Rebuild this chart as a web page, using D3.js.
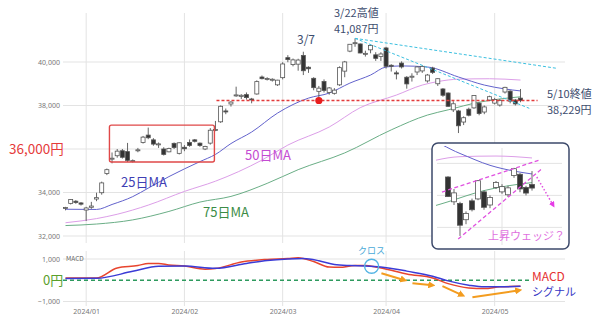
<!DOCTYPE html>
<html>
<head>
<meta charset="utf-8">
<script src="https://cdn.jsdelivr.net/npm/d3@7"></script>
<style>
body { margin: 0; background: #fff; }
svg { display: block; font-family: "Noto Sans CJK JP", "Noto Sans", sans-serif; }
</style>
</head>
<body>
<svg id="chart"></svg>
<script>
var svg_width = 600
var svg_height = 317

// trading days, 2023/12/26 .. 2024/05/10
var dates = ["12/26","12/27","12/28","12/29","01/04","01/05","01/09","01/10","01/11","01/12",
             "01/15","01/16","01/17","01/18","01/19","01/22","01/23","01/24","01/25","01/26",
             "01/29","01/30","01/31","02/01","02/02","02/05","02/06","02/07","02/08","02/09",
             "02/13","02/14","02/15","02/16","02/19","02/20","02/21","02/22","02/26","02/27",
             "02/28","02/29","03/01","03/04","03/05","03/06","03/07","03/08","03/11","03/12",
             "03/13","03/14","03/15","03/18","03/19","03/21","03/22","03/25","03/26","03/27",
             "03/28","03/29","04/01","04/02","04/03","04/04","04/05","04/08","04/09","04/10",
             "04/11","04/12","04/15","04/16","04/17","04/18","04/19","04/22","04/23","04/24",
             "04/25","04/26","04/30","05/01","05/02","05/07","05/08","05/09","05/10"];

var opens = [33290,33500,33600,33520,33193,33320,33700,33990,34870,35550,
             35690,35920,35880,35420,35930,36300,36640,36420,36200,36000,
             35870,36260,35800,36080,36300,36420,36270,36000,36270,36860,
             37250,37750,38070,38460,38420,38500,38300,38530,39310,39220,
             39200,38950,39280,40200,39880,39900,40300,39760,39250,38650,
             39100,38600,38560,38950,39580,40500,40850,40830,40380,40560,
             40330,40250,40646,39850,39500,39950,39300,39300,39540,39590,
             39130,39720,39000,38760,38575,37800,37750,37240,37830,37890,
             38110,37700,38250,38110,38020,38620,38660,38250,38340];

var highs = [33340,33700,33650,33560,33340,33570,33990,34500,35100,35840,
             36000,36000,36280,35520,36050,36600,36984,36500,36300,36080,
             36060,36300,36300,36180,36440,36460,36300,36150,36960,37290,
             38000,37860,38200,38865,38520,38600,38350,39156,39380,39300,
             39250,39180,39990,40314,40160,40150,40472,39800,39300,38900,
             39200,38850,38800,39800,40050,40820,41087,40850,40520,40780,
             40450,40450,40697,39900,39600,40030,39350,39480,39800,39850,
             39450,39780,39250,38800,38600,38200,37800,37500,37900,38480,
             38150,38000,38450,38350,38300,38860,38700,38300,38760];

var lows = [33180,33450,33480,33400,32693,33250,33600,33900,34800,35340,
            35600,35560,35400,35380,35850,36250,36450,36150,36050,35700,
            35850,36000,35750,35900,36100,36300,36100,35950,36200,36820,
            37200,37600,37950,38400,38300,38270,38100,38500,39200,39150,
            39100,38900,39200,39990,39800,39600,39400,39500,38700,38271,
            38600,38500,38500,38900,39300,40450,40700,40400,40250,40400,
            40050,40050,39700,39560,39200,39700,38774,39100,39400,39500,
            39050,39450,38900,38400,37950,37700,36733,37100,37500,37850,
            37550,37600,38200,38050,37950,38550,38100,38000,38150];

var closes = [33306,33681,33540,33464,33288,33377,33763,34441,35049,35577,
              35901,35619,35477,35466,35963,36546,36517,36226,36236,35751,
              36026,36065,36286,36011,36158,36354,36160,36119,36863,36897,
              37963,37703,38157,38487,38470,38363,38262,39098,39233,39239,
              39208,39166,39910,40109,40097,40090,39598,39688,38820,38797,
              38695,38807,38707,39740,40003,40815,40888,40414,40398,40762,
              40168,40369,39803,39838,39451,39773,38992,39347,39773,39800,
              39400,39523,39232,38471,37962,38079,37068,37438,37552,38460,
              37628,37934,38405,38274,38236,38835,38202,38073,38229];

// moving averages: [day index, value]
var ma25 = [[0,33230],[6,33220],[9,33450],[13,33810],[16,34200],[20,34730],[26,35420],[29,35750],
            [32,36250],[36,36780],[41,37650],[47,38340],[51,38570],[55,39030],[59,39400],[62,39770],
            [65,39820],[70,39770],[76,39310],[81,38940],[85,38760],[88,38670]];
var ma50 = [[0,32610],[6,32800],[10,33000],[16,33420],[23,34050],[29,34520],[38,35490],[43,36180],
            [51,37010],[57,37900],[64,38480],[69,38940],[72,39100],[76,39210],[82,39230],[88,39170]];
var ma75 = [[0,32480],[6,32550],[13,32740],[20,33130],[26,33560],[32,33820],[39,34420],[45,35050],
            [54,35820],[63,36880],[70,37560],[74,37800],[80,38150],[84,38300],[88,38400]];

// MACD panel
var macd = [[0,110],[6,110],[10,580],[14,690],[16,790],[18,790],[20,720],[23,670],[27,520],[29,550],
            [34,860],[39,980],[43,1020],[45,1060],[48,880],[51,620],[53,610],[56,690],[58,690],[60,620],
            [63,470],[66,290],[71,110],[74,-160],[78,-360],[81,-390],[84,-310],[88,-280]];
var signal = [[0,80],[6,90],[13,420],[18,660],[23,670],[29,560],[35,790],[39,930],[43,1000],[46,1020],
              [49,920],[52,740],[55,690],[58,670],[61,620],[64,520],[66,430],[71,190],[74,-30],[78,-230],
              [81,-310],[84,-310],[88,-280]];

var yTicks = [32000, 34000, 36000, 38000, 40000];
var yLabelTicks = [32000, 34000, 38000, 40000];
var macdTicks = [-1000, 1000];
var tickLabels = ["2024/01", "2024/02", "2024/03", "2024/04", "2024/05"];

// annotations in data coordinates
var lastClose = 38229;
var touchDay = 49;
var highDay = 56, highValue = 41087;
var trendEnds = [[95, 39710], [89.7, 37870]];
var boxRange = {i0: 8.5, i1: 28.8, v0: 35400, v1: 37100};
var crossPoint = [59.2, 660];
var macdArrows = [[[61.1, 330], [65.6, 0]], [[67.1, -140], [71, -235]],
                  [[72.9, -280], [76.8, -710]], [[78.7, -800], [87.8, -470]]];
var wedgeLines = [[[73, 38106], [89.3, 39106]], [[75.7, 36637], [89.8, 38856]]];
var wedgeArrow = [[88.8, 38575], [91.5, 37700]];
var insetFrom = 74;


var svg = d3.select("#chart")
.attr("width", svg_width)
.attr("height", svg_height);

var x = d3.scaleLinear().domain([0, 88]).range([65.5, 520.5]);
var y = d3.scaleLinear().domain([32000, 40000]).range([236, 62]);
var ym = d3.scaleLinear().domain([-1000, 1000]).range([301.5, 259]);

var plotLeft = 63, plotRight = 565;

var tickIdx = [];
dates.forEach(function(d, i) {
  if (i > 0 && d.slice(0, 2) !== dates[i - 1].slice(0, 2)) tickIdx.push(i);
});

var defs = svg.append("defs");
defs.append("marker")
.attr("id", "orangeHead")
.attr("viewBox", "0 0 10 10")
.attr("refX", 6).attr("refY", 5)
.attr("markerWidth", 3.6).attr("markerHeight", 3.6)
.attr("orient", "auto")
.append("path").attr("d", "M0,0L10,5L0,10z").attr("fill", "#f39c1f");
defs.append("marker")
.attr("id", "pinkHead")
.attr("viewBox", "0 0 10 10")
.attr("refX", 5).attr("refY", 5)
.attr("markerWidth", 6).attr("markerHeight", 6)
.attr("markerUnits", "userSpaceOnUse")
.attr("orient", "auto")
.append("path").attr("d", "M0,0L10,5L0,10z").attr("fill", "#e63ce6");
defs.append("clipPath").attr("id", "insetClip")
.append("rect").attr("x", 436).attr("y", 146).attr("width", 128).attr("height", 100);

// grid
var grid = svg.append("g").attr("stroke", "#e3e3e3").attr("stroke-width", 1);
grid.selectAll(".hy").data(yTicks).enter().append("line")
.attr("x1", plotLeft).attr("x2", plotRight)
.attr("y1", function(d) { return y(d); }).attr("y2", function(d) { return y(d); });
grid.selectAll(".hm").data(macdTicks).enter().append("line")
.attr("x1", plotLeft).attr("x2", plotRight)
.attr("y1", function(d) { return ym(d); }).attr("y2", function(d) { return ym(d); });
grid.selectAll(".vx").data(tickIdx).enter().append("line")
.attr("x1", function(d) { return x(d); }).attr("x2", function(d) { return x(d); })
.attr("y1", 13).attr("y2", 243);
grid.selectAll(".vm").data(tickIdx).enter().append("line")
.attr("x1", function(d) { return x(d); }).attr("x2", function(d) { return x(d); })
.attr("y1", 251).attr("y2", 306);

// axes
var yAxis = svg.append("g")
.attr("transform", "translate(" + plotLeft + ",0)")
.call(d3.axisLeft(y).tickValues(yLabelTicks).tickFormat(d3.format(",")).tickSize(0).tickPadding(3));
var mAxis = svg.append("g")
.attr("transform", "translate(" + plotLeft + ",0)")
.call(d3.axisLeft(ym).tickValues(macdTicks).tickFormat(d3.format(",")).tickSize(0).tickPadding(3));
var xAxis = svg.append("g")
.attr("transform", "translate(0,306)")
.call(d3.axisBottom(x).tickValues(tickIdx).tickFormat(function(d, i) { return tickLabels[i]; }).tickSize(0).tickPadding(3));
[yAxis, mAxis, xAxis].forEach(function(a) {
  a.select(".domain").remove();
  a.selectAll("text").attr("font-size", "7px").attr("fill", "#777").attr("font-family", "'Noto Sans', sans-serif");
});

// moving averages
var line = d3.line()
.x(function(d) { return x(d[0]); })
.y(function(d) { return y(d[1]); })
.curve(d3.curveMonotoneX);

svg.append("path").datum(ma75).attr("d", line).attr("fill", "none").attr("stroke", "#6aae86").attr("stroke-width", 1);
svg.append("path").datum(ma50).attr("d", line).attr("fill", "none").attr("stroke", "#dc9ee8").attr("stroke-width", 1);
svg.append("path").datum(ma25).attr("d", line).attr("fill", "none").attr("stroke", "#6262cc").attr("stroke-width", 1);

// candles
var days = d3.range(dates.length);
function drawCandles(g, xs, ys, idx, w) {
  g.selectAll(".wick").data(idx).enter().append("line")
  .attr("x1", function(i) { return xs(i); }).attr("x2", function(i) { return xs(i); })
  .attr("y1", function(i) { return ys(highs[i]); }).attr("y2", function(i) { return ys(lows[i]); })
  .attr("stroke", "#555").attr("stroke-width", 0.9);
  g.selectAll(".body").data(idx).enter().append("rect")
  .attr("x", function(i) { return xs(i) - w / 2; })
  .attr("width", w)
  .attr("y", function(i) { return ys(Math.max(opens[i], closes[i])); })
  .attr("height", function(i) { return Math.max(1, Math.abs(ys(opens[i]) - ys(closes[i]))); })
  .attr("fill", function(i) { return closes[i] >= opens[i] ? "#fff" : "#333"; })
  .attr("stroke", "#555").attr("stroke-width", 0.8);
}
drawCandles(svg.append("g"), x, y, days, 4);

// 5/10 close line and touch point
svg.append("line")
.attr("x1", x(29.2)).attr("x2", x(91.3))
.attr("y1", y(lastClose)).attr("y2", y(lastClose))
.attr("stroke", "#e33b3b").attr("stroke-width", 1.3).attr("stroke-dasharray", "3,2");
svg.append("circle")
.attr("cx", x(touchDay)).attr("cy", y(lastClose)).attr("r", 3.6)
.attr("fill", "#e81e1e");

// trend lines from the 3/22 high
svg.selectAll(".trend").data(trendEnds).enter().append("line")
.attr("x1", x(highDay)).attr("y1", y(highValue))
.attr("x2", function(d) { return x(d[0]); }).attr("y2", function(d) { return y(d[1]); })
.attr("stroke", "#3cc0e0").attr("stroke-width", 1).attr("stroke-dasharray", "3,2");

// range box
svg.append("rect")
.attr("x", x(boxRange.i0)).attr("y", y(boxRange.v1))
.attr("width", x(boxRange.i1) - x(boxRange.i0)).attr("height", y(boxRange.v0) - y(boxRange.v1))
.attr("rx", 2)
.attr("fill", "none").attr("stroke", "#e04848").attr("stroke-width", 1.4);

// MACD panel
var mline = d3.line()
.x(function(d) { return x(d[0]); })
.y(function(d) { return ym(d[1]); })
.curve(d3.curveMonotoneX);

svg.append("line")
.attr("x1", plotLeft).attr("x2", 530)
.attr("y1", ym(0)).attr("y2", ym(0))
.attr("stroke", "#2e9a5e").attr("stroke-width", 1.5).attr("stroke-dasharray", "4,3");
svg.append("path").datum(macd).attr("d", mline).attr("fill", "none").attr("stroke", "#e8452e").attr("stroke-width", 1.5);
svg.append("path").datum(signal).attr("d", mline).attr("fill", "none").attr("stroke", "#3b3bd6").attr("stroke-width", 1.5);

svg.selectAll(".oarrow").data(macdArrows).enter().append("line")
.attr("x1", function(d) { return x(d[0][0]); }).attr("y1", function(d) { return ym(d[0][1]); })
.attr("x2", function(d) { return x(d[1][0]); }).attr("y2", function(d) { return ym(d[1][1]); })
.attr("stroke", "#f39c1f").attr("stroke-width", 2)
.attr("marker-end", "url(#orangeHead)");

svg.append("circle")
.attr("cx", x(crossPoint[0])).attr("cy", ym(crossPoint[1])).attr("r", 7)
.attr("fill", "none").attr("stroke", "#54b4e4").attr("stroke-width", 1.4);

// texts
function label(t, px, py, size, color, anchor) {
  svg.append("text").attr("x", px).attr("y", py)
  .attr("font-size", size + "px").attr("fill", color)
  .attr("text-anchor", anchor || "start").text(t);
}
label("3/22高値", 334, 17, 11, "#3d4d6e");
label("41,087円", 334, 33, 11, "#3d4d6e");
label("3/7", 297, 44, 12, "#3d4d6e");
label("5/10終値", 547, 98, 11, "#3d4d6e");
label("38,229円", 547, 114, 11, "#3d4d6e");
label("36,000円", 9, 154, 13.5, "#e53a3a");
label("25日MA", 121, 187, 13, "#3f3fb4");
label("50日MA", 245, 160, 13, "#c44cd2");
label("75日MA", 203, 217, 13, "#3c8c46");
label("0円", 43, 285, 13, "#5aa02c");
label("MACD", 66, 261, 6.5, "#666");
label("MACD", 532, 281, 12, "#e53030");
label("シグナル", 532, 296, 11, "#3535c4");
label("クロス", x(crossPoint[0]), 254, 9, "#4aaad8", "middle");

// inset: zoom on the last weeks
var inset = svg.append("g");
inset.append("rect")
.attr("x", 432).attr("y", 143).attr("width", 137).attr("height", 106).attr("rx", 6)
.attr("fill", "#fff").attr("stroke", "#3d4a6b").attr("stroke-width", 1.5);

var xi = d3.scaleLinear().domain([74, 88]).range([448, 532]);
var yi = d3.scaleLinear().domain([37000, 39000]).range([227.4, 163.4]);
var insetTicks = [37000, 38000, 39000];

var ig = inset.append("g").attr("clip-path", "url(#insetClip)");
ig.selectAll(".ih").data(insetTicks).enter().append("line")
.attr("x1", 437).attr("x2", 562)
.attr("y1", function(d) { return yi(d); }).attr("y2", function(d) { return yi(d); })
.attr("stroke", "#e3e3e3");
ig.selectAll(".iv").data(tickIdx.filter(function(d) { return d >= insetFrom; })).enter().append("line")
.attr("x1", function(d) { return xi(d); }).attr("x2", function(d) { return xi(d); })
.attr("y1", 148).attr("y2", 245)
.attr("stroke", "#e3e3e3");

var iline = d3.line()
.x(function(d) { return xi(d[0]); })
.y(function(d) { return yi(d[1]); })
.curve(d3.curveMonotoneX);
ig.append("path").datum(ma75).attr("d", iline).attr("fill", "none").attr("stroke", "#6aae86").attr("stroke-width", 1);
ig.append("path").datum(ma50).attr("d", iline).attr("fill", "none").attr("stroke", "#dc9ee8").attr("stroke-width", 1);
ig.append("path").datum(ma25).attr("d", iline).attr("fill", "none").attr("stroke", "#6262cc").attr("stroke-width", 1);

drawCandles(ig.append("g"), xi, yi, days.filter(function(i) { return i >= insetFrom; }), 5);

inset.selectAll(".wedge").data(wedgeLines).enter().append("line")
.attr("x1", function(d) { return xi(d[0][0]); }).attr("y1", function(d) { return yi(d[0][1]); })
.attr("x2", function(d) { return xi(d[1][0]); }).attr("y2", function(d) { return yi(d[1][1]); })
.attr("stroke", "#e052e0").attr("stroke-width", 1.3).attr("stroke-dasharray", "4,2.5");
inset.append("line")
.attr("x1", xi(wedgeArrow[0][0])).attr("y1", yi(wedgeArrow[0][1]))
.attr("x2", xi(wedgeArrow[1][0])).attr("y2", yi(wedgeArrow[1][1]))
.attr("stroke", "#e052e0").attr("stroke-width", 1.5).attr("stroke-dasharray", "1.5,2")
.attr("marker-end", "url(#pinkHead)");
inset.append("text")
.attr("x", 488).attr("y", 240)
.attr("font-size", "11px").attr("fill", "#e070e0")
.text("上昇ウェッジ？");
</script>
</body>
</html>
